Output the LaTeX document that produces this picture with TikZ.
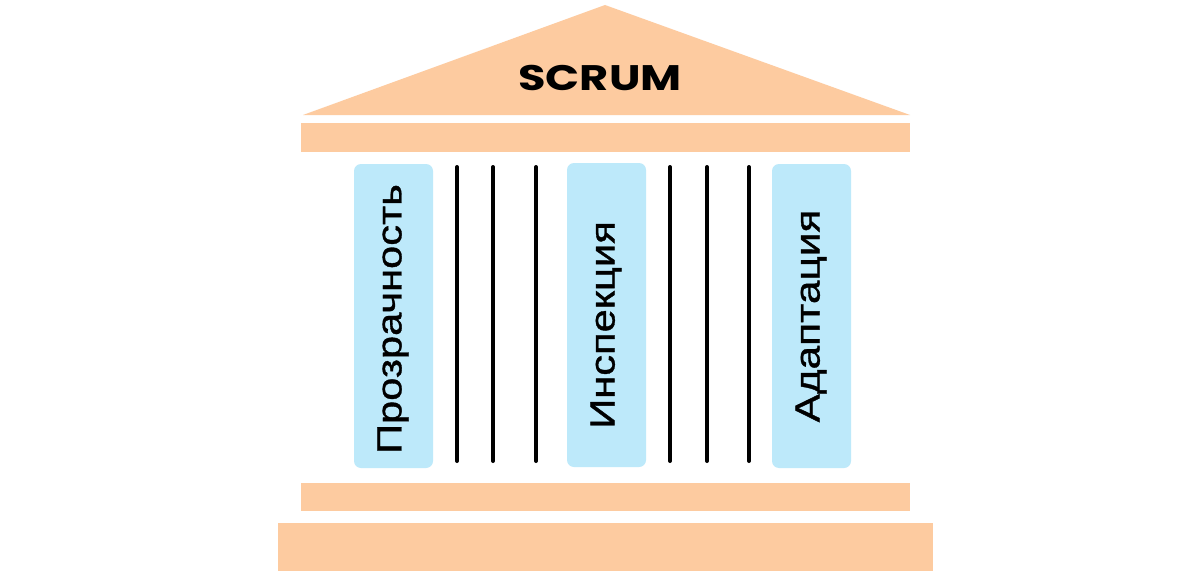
\documentclass[tikz,border=0pt]{standalone}
\usepackage{fontspec}
\setmainfont{Liberation Sans}
\newfontfamily\titlefont{Poppins}
\newfontfamily\pillarfont[FakeBold=0.9]{Liberation Sans}
\definecolor{peach}{HTML}{FDCBA0}
\definecolor{skyblue}{HTML}{BDE9FA}
\newcommand{\widetext}[2]{\scalebox{#1}[1]{#2}}
\begin{document}
\begin{tikzpicture}[x=1pt,y=-1pt,
  beam/.style={fill=peach,draw=none},
  pillar/.style={fill=skyblue,draw=none,rounded corners=7pt},
  flute/.style={line width=4pt,line cap=round,black},
  ptext/.style={rotate=90,font=\pillarfont\fontsize{35}{37}\selectfont,inner sep=0pt}]
\useasboundingbox (0,0) rectangle (1200,586);
\fill[white] (0,0) rectangle (1200,586);
% roof
\fill[beam] (605,5) coordinate (apex) -- (910,115) -- (303,115) -- cycle;
\node[font=\titlefont\bfseries\fontsize{35.5}{38}\selectfont,inner sep=0pt] (title) at (600,78) {\widetext{1.26}{SCRUM}};
% beams
\fill[beam] (301,123) rectangle (910,152);
\fill[beam] (301,483) rectangle (910,511);
\fill[beam] (278,523) rectangle (933,571);
% pillars
\fill[pillar] (354,164) rectangle (433,468);
\fill[pillar] (567,163) rectangle (646,467);
\fill[pillar] (772,164) rectangle (851,468);
\node[ptext] (p1) at (393,319) {\widetext{1.19}{Прозрачность}};
\node[ptext] (p2) at (606,325) {\widetext{1.19}{Инспекция}};
\node[ptext] (p3) at (811,316) {\widetext{1.21}{Адаптация}};
% flutes
\foreach \x/\n in {457/a,493/b,536/c,670/d,707/e,749/f}{
  \coordinate (t\n) at (\x,167);
  \coordinate (b\n) at (\x,461);
  \draw[flute] (t\n) -- (b\n);
}
\end{tikzpicture}
\end{document}
